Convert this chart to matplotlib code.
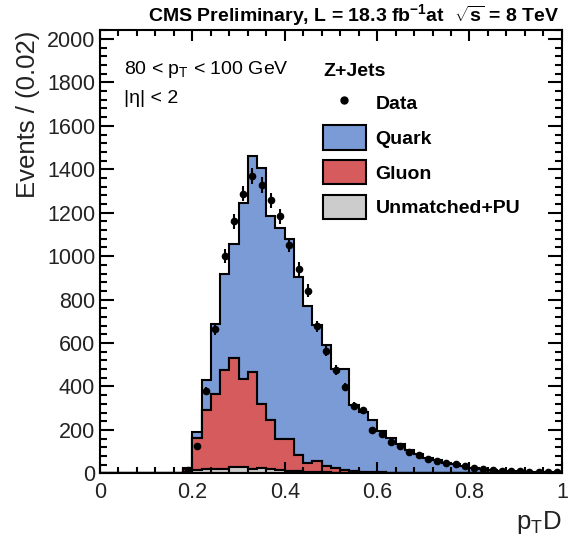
import numpy as np
import matplotlib
matplotlib.use("Agg")
import matplotlib.pyplot as plt
from matplotlib.lines import Line2D
from matplotlib.patches import Patch
from matplotlib.ticker import MultipleLocator

plt.rcParams['font.family'] = ['Liberation Sans', 'DejaVu Sans']
plt.rcParams['mathtext.fontset'] = 'custom'
plt.rcParams['mathtext.rm'] = 'Liberation Sans'
plt.rcParams['mathtext.bf'] = 'Liberation Sans:bold'
plt.rcParams['mathtext.default'] = 'regular'

# 50 bins of width 0.02 in pTD, from 0 to 1
bin_width = 0.02
edges = np.arange(0, 1 + bin_width / 2, bin_width)
centers = edges[:-1] + bin_width / 2

unmatched = [0, 0, 0, 0, 0, 0, 0, 0, 0,
             6, 15, 18, 20, 22, 28, 30, 22, 24, 18,
             14, 12, 9, 7, 6, 5, 4, 3, 3, 2,
             2, 2, 1, 1, 1, 1, 1, 0, 0, 0,
             0, 0, 0, 0, 0, 0, 0, 0, 0, 0, 0]
gluon = [0, 0, 0, 0, 0, 0, 0, 0, 0,
         12, 146, 272, 347, 452, 503, 406, 444, 297, 227,
         142, 144, 75, 39, 50, 28, 19, 12, 7, 5,
         3, 3, 2, 2, 1, 1, 1, 0, 0, 0,
         0, 0, 0, 0, 0, 0, 0, 0, 0, 0, 0]
quark = [0, 0, 0, 0, 0, 0, 0, 0, 0,
         7, 30, 138, 321, 446, 527, 811, 995, 1086, 941,
         974, 924, 818, 726, 627, 557, 459, 465, 303, 276,
         240, 190, 162, 132, 106, 86, 70, 60, 50, 42,
         34, 26, 20, 16, 13, 11, 9, 8, 7, 6, 5]
data = [0, 0, 0, 0, 0, 0, 0, 0, 0,
        14, 125, 378, 665, 1002, 1160, 1288, 1369, 1326, 1257,
        1183, 1050, 941, 841, 677, 565, 477, 398, 309, 290,
        199, 183, 145, 125, 99, 84, 64, 58, 49, 43,
        33, 23, 18, 14, 12, 10, 9, 8, 7, 6, 5]

blue = "#7b9bd6"
red = "#d65b5d"
grey = "#cccccc"

fig = plt.figure(figsize=(5.78, 5.41), dpi=100)
ax = fig.add_axes([0.173, 0.125, 0.799, 0.819])

ax.hist([centers, centers, centers], bins=edges,
        weights=[unmatched, gluon, quark], stacked=True,
        histtype="stepfilled", color=[grey, red, blue],
        edgecolor="black", linewidth=1.5)

data = np.array(data, dtype=float)
mask = data > 0
ax.errorbar(centers[mask], data[mask], yerr=np.sqrt(data[mask]),
            fmt="o", color="black", ms=4.5, elinewidth=1.5, capsize=0)

ax.set_xlim(0, 1)
ax.set_ylim(0, 2040)
ax.xaxis.set_major_locator(MultipleLocator(0.2))
ax.xaxis.set_minor_locator(MultipleLocator(0.04))
ax.yaxis.set_major_locator(MultipleLocator(200))
ax.yaxis.set_minor_locator(MultipleLocator(40))
ax.set_xticks([0, 0.2, 0.4, 0.6, 0.8, 1.0], ["0", "0.2", "0.4", "0.6", "0.8", "1"])
ax.tick_params(which="both", direction="in", top=True, right=True,
               labelsize=15.5, width=1.5, colors="black", labelcolor="#222222")
ax.tick_params(axis="y", which="major", length=10)
ax.tick_params(axis="y", which="minor", length=5)
ax.tick_params(axis="x", which="major", length=8, pad=6)
ax.tick_params(axis="x", which="minor", length=4)
for s in ax.spines.values():
    s.set_linewidth(1.5)

ax.set_ylabel("Events / (0.02)", fontsize=18.5, loc="top", color="#222222")
ax.yaxis.set_label_coords(-0.13, 1.0)
ax.set_xlabel("p$_{T}$D", fontsize=18.5, loc="right", color="#222222")
ax.xaxis.set_label_coords(1.0, -0.08)

fig.text(0.967, 0.973, r"CMS Preliminary, L = 18.3 fb$^{\mathbf{-1}}$at  $\sqrt{s}$ = 8 TeV",
         ha="right", va="center", fontsize=14, fontweight="bold")

ax.text(0.052, 0.912, "80 < p$_{T}$ < 100 GeV", transform=ax.transAxes,
        fontsize=14, va="center", ha="left")
ax.text(0.052, 0.845, "|η| < 2", transform=ax.transAxes,
        fontsize=14, va="center", ha="left")

handles = [Line2D([], [], marker="o", ls="none", color="black", ms=5),
           Patch(facecolor=blue, edgecolor="black", linewidth=1.5),
           Patch(facecolor=red, edgecolor="black", linewidth=1.5),
           Patch(facecolor=grey, edgecolor="black", linewidth=1.5)]
labels = ["Data", "Quark", "Gluon", "Unmatched+PU"]
leg = ax.legend(handles, labels, title="Z+Jets", loc="upper left",
                bbox_to_anchor=(0.483, 0.927), frameon=False,
                prop={"weight": "bold", "size": 14},
                title_fontproperties={"weight": "bold", "size": 14},
                handlelength=2.2, handleheight=1.55, handletextpad=0.5,
                labelspacing=0.53, borderpad=0, borderaxespad=0, alignment="left")
leg._legend_box.sep = 8

fig.savefig("out.png", dpi=100)
